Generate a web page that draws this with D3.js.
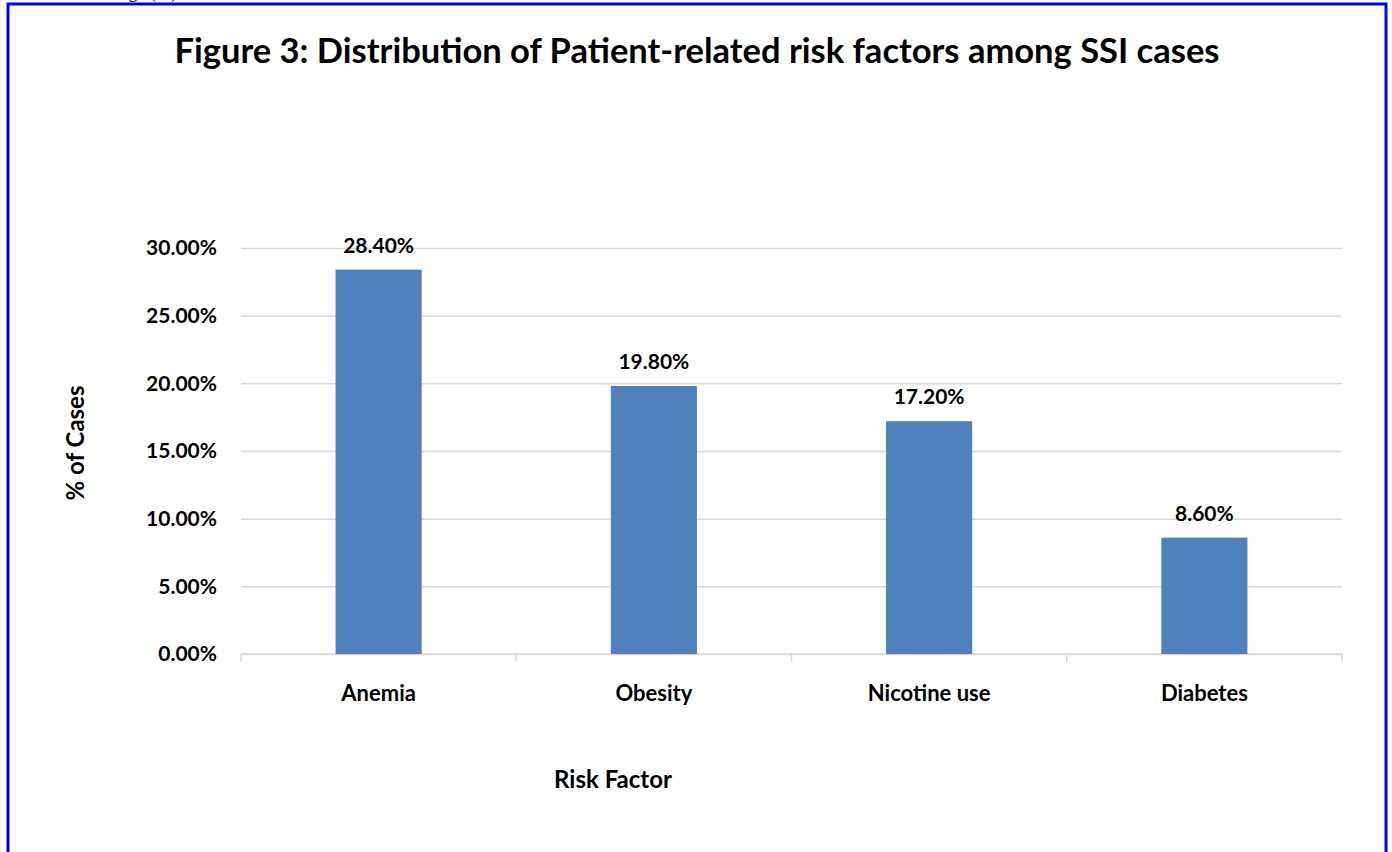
<!DOCTYPE html>
<html lang="en">

<head>
  <meta charset="utf-8">
  <title>Figure 3</title>
  <script src="https://d3js.org/d3.v7.min.js"></script>
  <style>
    body {
      margin: 0;
      background: white;
    }

    svg text {
      font-family: Lato, "Open Sans", sans-serif;
      font-weight: bold;
      fill: black;
    }

    .grid line {
      stroke: #d9d9d9;
      stroke-width: 1.5;
    }
  </style>
</head>

<body>
  <div id="chart"></div>
</body>

<script>

  var categories = ["Anemia", "Obesity", "Nicotine use", "Diabetes"];
  var percentCases = [0.284, 0.198, 0.172, 0.086];
  var yTicks = [0, 0.05, 0.10, 0.15, 0.20, 0.25, 0.30];

  var width = 1392, height = 852;
  var plot = { left: 241, right: 1342, top: 248, bottom: 654 };

  var svg = d3.select('#chart')
    .append('svg')
    .attr('width', width)
    .attr('height', height);

  // text of the page above, cut off by the top edge
  svg.append('text')
    .attr('x', 177)
    .attr('y', -2)
    .attr('text-anchor', 'end')
    .style('font-family', '"Liberation Serif", serif')
    .style('font-weight', 'normal')
    .style('font-size', '18px')
    .text('Percentage (%)');

  svg.append('rect')
    .attr('x', 8)
    .attr('y', 4)
    .attr('width', 1378)
    .attr('height', 870)
    .attr('fill', 'none')
    .attr('stroke', '#0000ff')
    .attr('stroke-width', 3);

  var xS = d3.scaleBand()
    .domain(categories)
    .range([plot.left, plot.right]);

  var yS = d3.scaleLinear()
    .domain([0, 0.30])
    .range([plot.bottom, plot.top]);

  // gridlines
  svg.append('g')
    .attr('class', 'grid')
    .attr('transform', 'translate(' + plot.left + ',0)')
    .call(d3.axisLeft(yS).tickValues(yTicks).tickSize(-(plot.right - plot.left)).tickFormat(''))
    .call(g => g.select('.domain').remove());

  // y tick labels
  svg.append('g')
    .attr('transform', 'translate(' + plot.left + ',0)')
    .call(d3.axisLeft(yS).tickValues(yTicks).tickSize(0).tickPadding(24).tickFormat(d3.format('.2%')))
    .call(g => g.select('.domain').remove())
    .selectAll('text')
    .style('font-size', '21px');

  // x axis line with ticks at category boundaries
  var xAxis = svg.append('g');
  xAxis.append('line')
    .attr('x1', plot.left).attr('x2', plot.right)
    .attr('y1', yS(0)).attr('y2', yS(0))
    .attr('stroke', '#d9d9d9').attr('stroke-width', 1.5);
  var bounds = categories.map(c => xS(c)).concat([xS(categories[categories.length - 1]) + xS.bandwidth()]);
  xAxis.selectAll('.xtick')
    .data(bounds)
    .enter()
    .append('line')
    .attr('x1', d => d).attr('x2', d => d)
    .attr('y1', yS(0)).attr('y2', yS(0) + 8)
    .attr('stroke', '#d9d9d9').attr('stroke-width', 1.5);

  xAxis.selectAll('.xlabel')
    .data(categories)
    .enter()
    .append('text')
    .attr('x', d => xS(d) + xS.bandwidth() / 2)
    .attr('y', yS(0) + 47)
    .attr('text-anchor', 'middle')
    .style('font-size', '22px')
    .text(d => d);

  var barW = xS.bandwidth() * 0.313;

  svg.selectAll('.bar')
    .data(percentCases)
    .enter()
    .append('rect')
    .attr('x', (d, i) => xS(categories[i]) + xS.bandwidth() / 2 - barW / 2)
    .attr('y', d => yS(d))
    .attr('width', barW)
    .attr('height', d => yS(0) - yS(d))
    .attr('fill', '#4f81bd');

  svg.selectAll('.value')
    .data(percentCases)
    .enter()
    .append('text')
    .attr('x', (d, i) => xS(categories[i]) + xS.bandwidth() / 2)
    .attr('y', d => yS(d) - 17)
    .attr('text-anchor', 'middle')
    .style('font-size', '21px')
    .text(d => d3.format('.2%')(d));

  svg.append('text')
    .attr('x', 697)
    .attr('y', 63)
    .attr('text-anchor', 'middle')
    .style('font-size', '34.5px')
    .text('Figure 3: Distribution of Patient-related risk factors among SSI cases');

  svg.append('text')
    .attr('transform', 'translate(84,443) rotate(-90)')
    .attr('text-anchor', 'middle')
    .style('font-size', '24px')
    .text('% of Cases');

  svg.append('text')
    .attr('x', 613)
    .attr('y', 788)
    .attr('text-anchor', 'middle')
    .style('font-size', '24px')
    .text('Risk Factor');

</script>

</html>
